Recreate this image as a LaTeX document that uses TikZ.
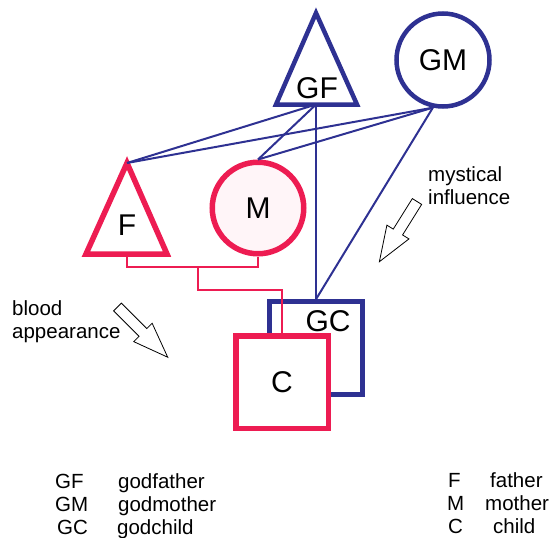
\documentclass[tikz,border=0pt]{standalone}
\usepackage{fontspec}
\setmainfont{Liberation Sans}
\usepackage{tikz}
\usetikzlibrary{calc,positioning}
\definecolor{godblue}{RGB}{46,49,146}
\definecolor{bloodred}{RGB}{237,28,82}
\definecolor{mpink}{RGB}{255,245,248}

\begin{document}
\begin{tikzpicture}[x=1pt, y=-1pt]
\tikzstyle{big}=[font=\fontsize{30}{30}\selectfont, inner sep=0pt]
\tikzstyle{txt}=[font=\fontsize{20.5}{23}\selectfont, inner sep=0pt, align=left]
\tikzstyle{god}=[draw=godblue, line width=4.5pt]
\tikzstyle{blood}=[draw=bloodred, line width=5.5pt]
\tikzstyle{gline}=[draw=godblue, line width=2pt]
\tikzstyle{bline}=[draw=bloodred, line width=2.5pt]
\tikzstyle{hollow}=[draw=black, line width=0.8pt, fill=white]
\useasboundingbox (0,0) rectangle (555,538);

% godparents
\coordinate (GFtop) at (316,13);
\coordinate (GFb) at (316,104.5);
\draw[god] (GFtop) -- (276,104.5) -- (357,104.5) -- cycle;
\node[big] (GF) at (317,88) {GF};
\node[god, circle, minimum size=93pt, big] (GM) at (443,60) {GM};

% parents
\coordinate (Ftop) at (127,163);
\coordinate (Fb) at (127,254);
\draw[blood] (Ftop) -- (86,254) -- (167,254) -- cycle;
\node[big] (F) at (127,225) {F};
\node[blood, circle, fill=mpink, minimum size=91.5pt, big] (M) at (258,208) {M};

% godchild and child
\node[god, minimum size=93pt] (GCbox) at (316,348) {};
\node[big] (GC) at (328,321) {GC};
\node[blood, fill=white, minimum size=92.5pt, big] (C) at (282,382) {C};

% mystical influence
\foreach \i/\j in {GFb/Ftop,GFb/M.north,GFb/GCbox.north}{\draw[gline] (\i) -- (\j);}
\foreach \j in {Ftop,M.north,GCbox.north}{\draw[gline] (GM.-102) -- (\j);}

% blood line
\coordinate (FM) at (198,267);
\coordinate (bend) at (198,290);
\draw[bline] (Fb) |- (FM) -| (M.south);
\draw[bline] (FM) -- (bend) -| (C.north);

% open arrows
\begin{scope}[shift={(117.5,307)}, rotate=-45]
\draw[hollow] (0,-5.5) -- (36,-5.5) -- (36,-13) -- (71,0) -- (36,13) -- (36,5.5) -- (0,5.5) -- cycle;
\end{scope}
\begin{scope}[shift={(417,201.5)}, rotate=-122]
\draw[hollow] (0,-5.5) -- (36,-5.5) -- (36,-13) -- (71,0) -- (36,13) -- (36,5.5) -- (0,5.5) -- cycle;
\end{scope}
\node[txt, anchor=west] (blood) at (12,322) {blood\\appearance};
\node[txt, anchor=west] (myst) at (428,186) {mystical\\influence};

% key
\foreach \a/\b/\y/\xa/\xb in {GF/godfather/488/55/118,GM/godmother/511/55/118,GC/godchild/534/57/117}{
  \node[txt, anchor=base west] (k\a) at (\xa,\y) {\a};
  \node[txt, anchor=base west] (d\a) at (\xb,\y) {\b};
}
\foreach \a/\b/\y/\xa/\xb in {F/father/487/448/490,M/mother/510/447/485,C/child/533/448/493}{
  \node[txt, anchor=base west] (k\a) at (\xa,\y) {\a};
  \node[txt, anchor=base west] (d\a) at (\xb,\y) {\b};
}

\end{tikzpicture}
\end{document}
